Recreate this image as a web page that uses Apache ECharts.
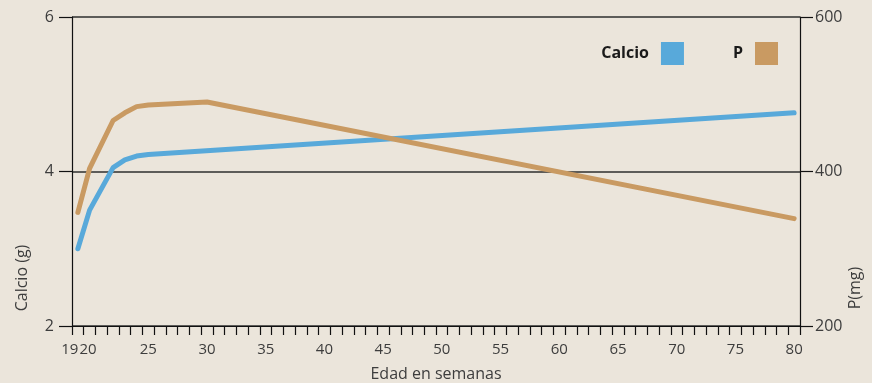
<!DOCTYPE html>
<html>
<head>
<meta charset="utf-8">
<script src="https://cdn.jsdelivr.net/npm/echarts@6/dist/echarts.min.js"></script>
<style>
html,body{margin:0;padding:0;background:#ebe5db;}
#c{width:872px;height:383px;}
</style>
</head>
<body>
<div id="c"></div>
<script>
// Week categories (tick labels) 19..80
var weeks = [];
for (var w = 19; w <= 80; w++) weeks.push(w);
var shownLabels = [19, 20, 25, 30, 35, 40, 45, 50, 55, 60, 65, 70, 75, 80];

// Calcio (g) - left axis, read at key weeks
var calcioWeeks  = [19,   20,   22,   23,   24,   25,   80];
var calcioValues = [3.0,  3.5,  4.05, 4.15, 4.2,  4.22, 4.76];

// P (mg) - right axis
var pWeeks  = [19,  20,  22,  23,  24,  25,  30,  80];
var pValues = [347, 404, 466, 476, 484, 486, 490, 339];

var leftTicks = [2, 4, 6];
var rightTicks = [200, 400, 600];

function pairs(xs, ys){ return xs.map(function(x,i){ return [x, ys[i]]; }); }

var txt = '#3d3d3d';
var font = 'Open Sans';
var chart = echarts.init(document.getElementById('c'), null, {renderer:'canvas'});
chart.setOption({
  backgroundColor: '#ebe5db',
  animation: false,
  grid: {left: 72, right: 72, top: 17, bottom: 57, containLabel: false, outerBoundsMode: 'none'},
  legend: {
    right: 89, top: 37, align: 'right', itemWidth: 23, itemHeight: 23, itemGap: 49,
    icon: 'rect',
    data: ['Calcio', 'P'],
    textStyle: {fontFamily: font, fontWeight: 'bold', fontSize: 16, color: '#1a1a1a', padding: [0, 7, 0, 0]}
  },
  xAxis: [{
    type: 'category', data: weeks, boundaryGap: true,
    name: 'Edad en semanas', nameLocation: 'middle', nameGap: 40,
    nameTextStyle: {fontFamily: font, fontSize: 16, color: txt},
    axisLine: {lineStyle: {color: '#111', width: 1.2}},
    axisTick: {show: true, interval: 0, length: 9, lineStyle: {color: '#111', width: 1.2}},
    axisLabel: {interval: 0, margin: 16, fontFamily: font, fontSize: 15, color: txt,
      formatter: function(v){
        if (+v === 19) return '{first|' + v + '}';
        if (+v === 20) return '{second|' + v + '}';
        return shownLabels.indexOf(+v) >= 0 ? v : '';
      },
      rich: {
        first: {fontFamily: font, fontSize: 15, color: txt, padding: [0, 16, 0, 0]},
        second: {fontFamily: font, fontSize: 15, color: txt, padding: [0, 3, 0, 0]}
      }
    },
    splitLine: {show: false}
  }, {
    type: 'value', min: 18.5, max: 80.5, show: false
  }],
  yAxis: [{
    type: 'value', min: 2, max: 6, interval: 2, position: 'left',
    axisLine: {show: true, lineStyle: {color: '#111', width: 1.2}},
    axisTick: {show: true, length: 13, lineStyle: {color: '#111', width: 1.2}},
    axisLabel: {margin: 18, fontFamily: font, fontSize: 16, color: txt,
      formatter: function(v){ return leftTicks.indexOf(v) >= 0 ? String(v) : ''; }},
    splitLine: {show: true, lineStyle: {color: '#2e2e2e', width: 1.5}}
  }, {
    type: 'value', min: 200, max: 600, interval: 200, position: 'right',
    axisLine: {show: true, lineStyle: {color: '#111', width: 1.2}},
    axisTick: {show: true, length: 13, lineStyle: {color: '#111', width: 1.2}},
    axisLabel: {margin: 15, fontFamily: font, fontSize: 16, color: txt,
      formatter: function(v){ return rightTicks.indexOf(v) >= 0 ? String(v) : ''; }},
    splitLine: {show: false}
  }],
  series: [{
    name: 'Calcio', type: 'line', xAxisIndex: 1, yAxisIndex: 0,
    data: pairs(calcioWeeks, calcioValues), showSymbol: false, symbol: 'none',
    color: '#58a9da',
    lineStyle: {width: 5, color: '#58a9da', cap: 'round', join: 'round'}
  }, {
    name: 'P', type: 'line', xAxisIndex: 1, yAxisIndex: 1,
    data: pairs(pWeeks, pValues), showSymbol: false, symbol: 'none',
    color: '#c99a62',
    lineStyle: {width: 5, color: '#c99a62', cap: 'round', join: 'round'}
  }],
  graphic: [{
    type: 'text', x: 22, y: 278, rotation: Math.PI / 2,
    style: {text: 'Calcio (g)', fontFamily: font, fontSize: 16, fill: txt, textAlign: 'center', textVerticalAlign: 'middle'}
  }, {
    type: 'text', x: 855, y: 288, rotation: Math.PI / 2,
    style: {text: 'P(mg)', fontFamily: font, fontSize: 16, fill: txt, textAlign: 'center', textVerticalAlign: 'middle'}
  }]
});
</script>
</body>
</html>
